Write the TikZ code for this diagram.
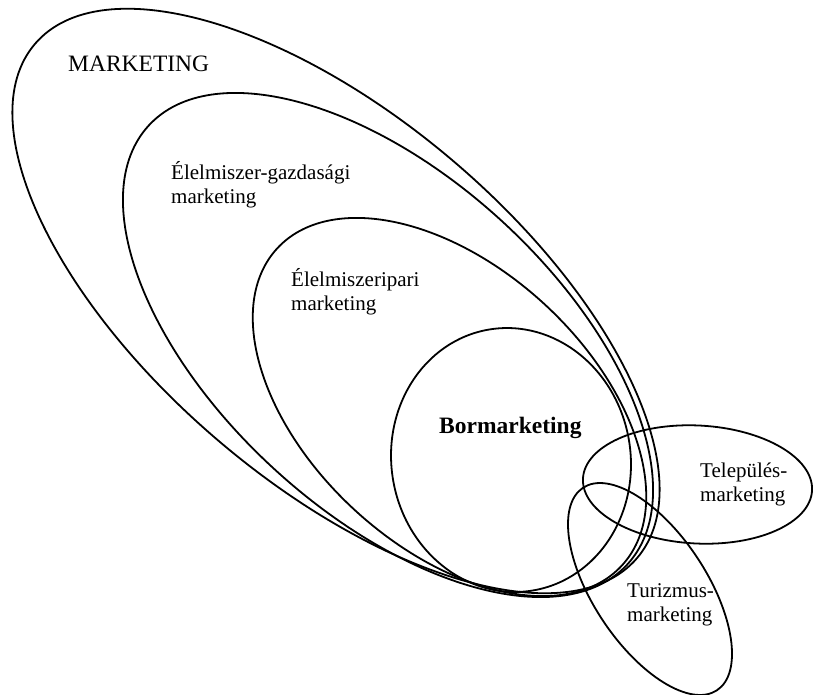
\documentclass[tikz,border=0pt]{standalone}
\usepackage{fontspec}
\setmainfont{Liberation Serif}
\usetikzlibrary{shapes.geometric}
\begin{document}
\begin{tikzpicture}[x=1pt,y=-1pt,
  ring/.style={draw, ellipse, line width=1.8pt, inner sep=0pt, outer sep=0pt},
  lbl/.style={anchor=base west, inner sep=0pt, font=\fontsize{21}{24}\selectfont},
  biglbl/.style={anchor=base west, inner sep=0pt, font=\fontsize{23.5}{26}\selectfont}]
\useasboundingbox (0,0) rectangle (813,695);
% nested ellipses
\node[ring, minimum width=791.8pt, minimum height=365.2pt, rotate=-40.5] (mkt) at (336,301) {};
\node[ring, minimum width=649.4pt, minimum height=336.6pt, rotate=-42.5] (gazd) at (388,345) {};
\node[ring, minimum width=468.4pt, minimum height=280pt, rotate=-42.6] (ipar) at (449.5,407) {};
\node[ring, minimum width=239.2pt, minimum height=264.6pt, rotate=9.6] (bor) at (511,460) {};
\node[ring, minimum width=229.4pt, minimum height=118pt, rotate=-3] (tel) at (697.5,484.5) {};
\node[ring, minimum width=242.8pt, minimum height=113.4pt, rotate=-56.5] (tur) at (650,589) {};
% labels
\node[biglbl] (tmkt) at (68,72) {MARKETING};
\node[lbl] (tgazd1) at (171,179) {Élelmiszer-gazdasági};
\node[lbl] (tgazd2) at (171,203) {marketing};
\node[lbl] (tipar1) at (291,286) {Élelmiszeripari};
\node[lbl] (tipar2) at (291,310) {marketing};
\node[biglbl, font=\fontsize{23.5}{26}\selectfont\bfseries] (tbor) at (439,433) {Bormarketing};
\node[lbl] (ttel1) at (700,477) {Település-};
\node[lbl] (ttel2) at (700,501) {marketing};
\node[lbl] (ttur1) at (627,597) {Turizmus-};
\node[lbl] (ttur2) at (627,621) {marketing};
\end{tikzpicture}
\end{document}
